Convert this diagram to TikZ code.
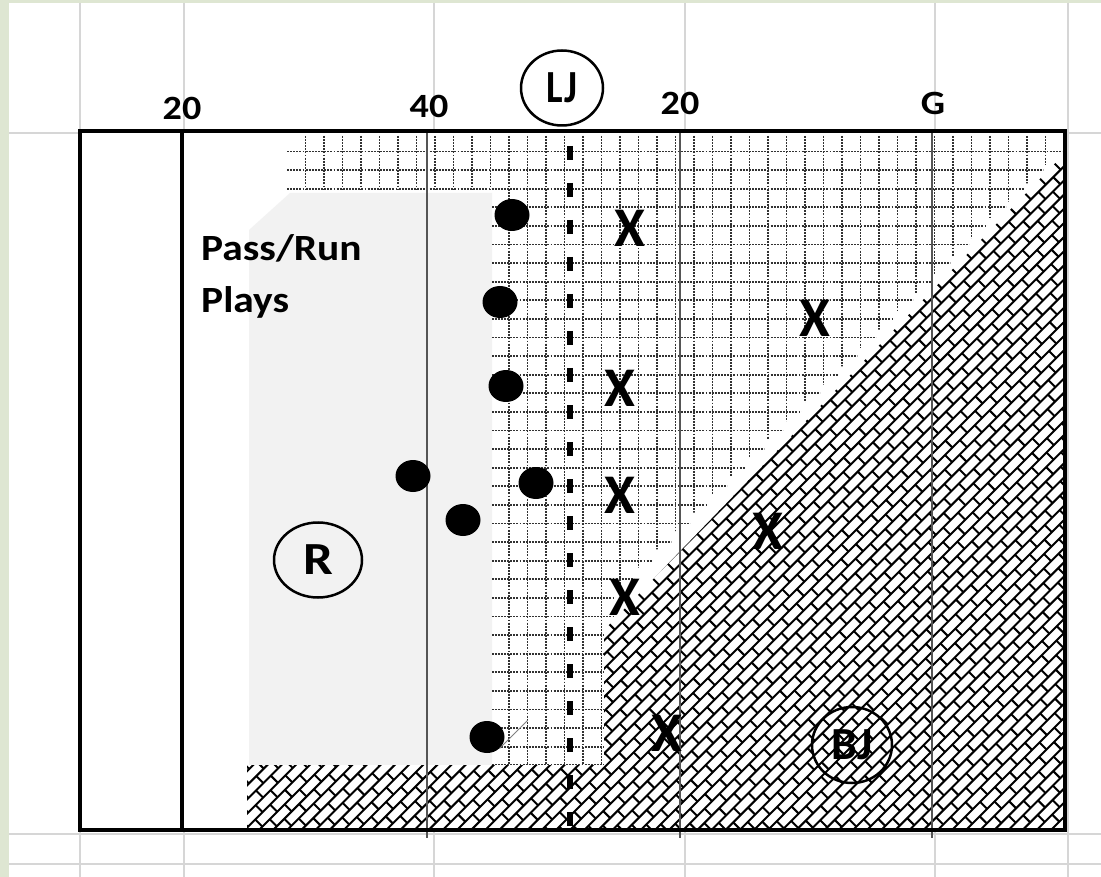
\documentclass[tikz,border=0pt]{standalone}
\usepackage{fontspec}
\setmainfont{Carlito}
\usetikzlibrary{shapes.geometric}

\definecolor{sheetline}{RGB}{214,214,214}
\definecolor{sheetedge}{RGB}{222,230,210}
\definecolor{backfield}{RGB}{242,242,242}
\definecolor{yardline}{RGB}{85,85,85}
\definecolor{gridink}{RGB}{50,50,50}

\begin{document}
\begin{tikzpicture}[x=1pt, y=-1pt,
    sheet/.style={draw=sheetline, line width=1.3pt},
    field/.style={draw=black, line width=3.5pt},
    yard/.style={draw=yardline, line width=1.8pt},
    scrimmage/.style={draw=black, line width=6pt, dash pattern=on 14pt off 23pt, dash phase=27pt},
    gridline/.style={draw=gridink, line width=1.9pt, dash pattern=on 1.9pt off 1.2pt},
    brick/.style={draw=black, line width=2pt},
    yardnum/.style={font=\fontsize{34}{40}\selectfont\bfseries, xscale=1.12, inner sep=0pt},
    player/.style={ellipse, fill=black, minimum width=35pt, minimum height=32pt, inner sep=0pt},
    defender/.style={font=\fontsize{56}{60}\selectfont\bfseries, inner sep=0pt},
    official/.style={ellipse, draw, line width=2.5pt, inner sep=0pt, font=\fontsize{46}{50}\selectfont\bfseries}]
\useasboundingbox (0,0) rectangle (1101,877);
\fill[white] (0,0) rectangle (1101,877);
\fill[sheetedge] (0,0) rectangle (1101,3);
\fill[sheetedge] (0,0) rectangle (9,877);
\draw[sheet] (80,3) -- (80,877) (184,3) -- (184,877) (434,3) -- (434,877)
    (685,3) -- (685,877) (935,3) -- (935,877) (1068,3) -- (1068,877)
    (9,133) -- (1101,133) (9,834) -- (1101,834) (9,864) -- (1101,864);
\fill[white] (80,131) rectangle (1065,830);
\fill[backfield] (249,230) -- (290,193) -- (492,193) -- (492,768) -- (249,768) -- cycle;
% dotted grid zone
\begin{scope}
\clip (287,136) -- (1062,136) -- (1062,165)
    \foreach \i in {1,...,24} { -- ++(-18.6,0) -- ++(0,18.3) }
    -- (615.6,765) -- (492,765) -- (492,190) -- (287,190) -- cycle;
\draw[gridline] \foreach \k in {0,...,41} { (305.5+18.5*\k,136) -- ++(0,640) };
\draw[gridline] \foreach \k in {0,...,33} { (287,151.5+18.6*\k) -- ++(780,0) };
\end{scope}
% brick zone
\begin{scope}
\clip (247,765) -- (604,765) -- (604,630) -- (1063,155) -- (1063,828) -- (247,828) -- cycle;
\fill[white] (247,155) rectangle (1063,828);
\begin{scope}[rotate=45]
\draw[brick] \foreach \r in {0,...,106} { (-420,280+10*\r) -- ++(1070,0) };
\draw[brick] \foreach \r in {0,...,105} { \foreach \c in {0,...,53} { ({-420+21*\c+10.5*mod(\r,2)},{280+10*\r}) -- ++(0,10) } };
\end{scope}
\end{scope}
\draw[yard] (427,133) -- (427,838) (680,133) -- (680,838) (932,133) -- (932,838);
\draw[scrimmage] (570,136) -- (570,828);
\draw[field] (80,131) rectangle (1065,830) (182,131) -- (182,830);
\node[yardnum] (yd20l) at (182,108) {20};
\node[yardnum] (yd40) at (429,106) {40};
\node[yardnum] (yd20r) at (680,103) {20};
\node[yardnum] (goal) at (933,103) {G};
\node[yardnum, font=\fontsize{37}{52}\selectfont\bfseries, align=left, anchor=west] (plays) at (201,276) {Pass/Run\\Plays};
\node[official, minimum width=82pt, minimum height=75pt, fill=white] (lj) at (562,88) {\scalebox{0.85}[1]{LJ}};
\node[official, minimum width=88pt, minimum height=75pt, fill=backfield] (ref) at (318,560) {\scalebox{1.15}[1]{R}};
\node[official, minimum width=80pt, minimum height=76pt] (bj) at (852,745) {BJ};
\node[player] (off1) at (512,215) {};
\node[player] (off2) at (500,302) {};
\node[player] (off3) at (506,386) {};
\node[player] (off4) at (413,476) {};
\node[player] (off5) at (536,483) {};
\node[player] (off6) at (463,520) {};
\node[player] (off7) at (487,737) {};
\draw[gray, line width=1pt] (off7.south east) -- +(28,-28);
\node[defender] (def1) at (630,228) {X};
\node[defender] (def2) at (815,318) {X};
\node[defender] (def3) at (620,388) {X};
\node[defender] (def4) at (620,495) {X};
\node[defender] (def5) at (768,531) {X};
\node[defender] (def6) at (625,597) {X};
\node[defender] (def7) at (667,733) {X};
\end{tikzpicture}
\end{document}
